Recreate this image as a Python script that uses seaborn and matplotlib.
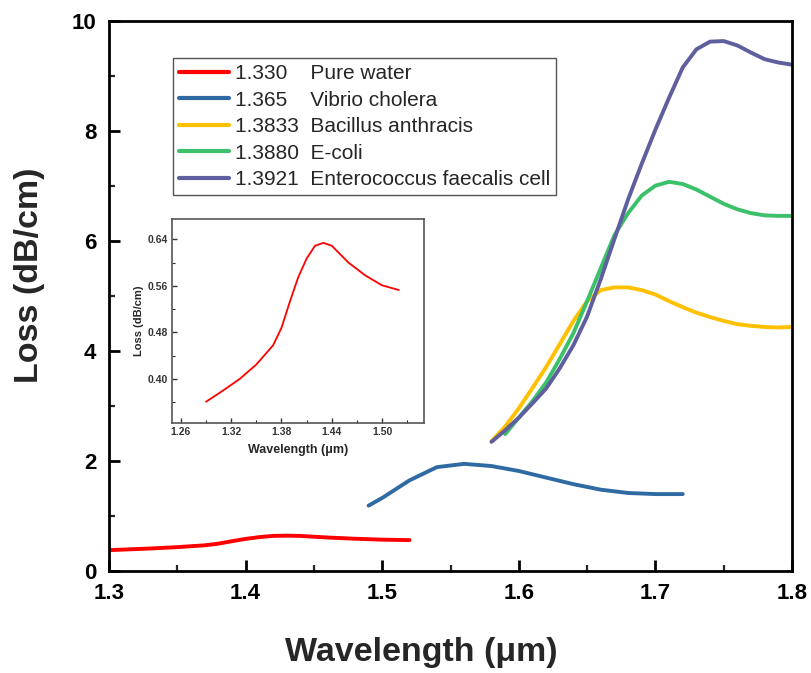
import numpy as np
import pandas as pd
import matplotlib
matplotlib.use("Agg")
import matplotlib.pyplot as plt
from matplotlib.ticker import MultipleLocator
import seaborn as sns

# Refractive index and analyte of each sample
ri_values = ["1.330", "1.365", "1.3833", "1.3880", "1.3921"]
species = ["Pure water", "Vibrio cholera", "Bacillus anthracis", "E-coli",
           "Enterococcus faecalis cell"]
colors = ["#FF0000", "#2F6AA3", "#FFC000", "#3CC06A", "#5F5E9E"]

# Pure water
wl_water = [1.29, 1.31, 1.33, 1.35, 1.37, 1.38, 1.39, 1.40, 1.41, 1.42, 1.43,
            1.44, 1.46, 1.48, 1.50, 1.52]
loss_water = [0.361, 0.380, 0.400, 0.425, 0.458, 0.488, 0.533, 0.575, 0.607,
              0.629, 0.634, 0.629, 0.600, 0.578, 0.561, 0.553]

# Vibrio cholera
wl_vibrio = [1.49, 1.50, 1.52, 1.54, 1.56, 1.58, 1.60, 1.62, 1.64, 1.66, 1.68,
             1.70, 1.72]
loss_vibrio = [1.18, 1.32, 1.64, 1.88, 1.94, 1.90, 1.81, 1.69, 1.57, 1.47,
               1.41, 1.39, 1.39]

# Bacillus anthracis
wl_bacillus = [1.58, 1.59, 1.60, 1.61, 1.62, 1.63, 1.64, 1.65, 1.66, 1.67,
               1.68, 1.69, 1.70, 1.71, 1.72, 1.73, 1.74, 1.75, 1.76, 1.77,
               1.78, 1.79, 1.80]
loss_bacillus = [2.35, 2.62, 2.95, 3.32, 3.70, 4.12, 4.54, 4.90, 5.10, 5.15,
                 5.15, 5.10, 5.02, 4.90, 4.79, 4.69, 4.61, 4.54, 4.48, 4.45,
                 4.43, 4.42, 4.43]

# E-coli
wl_ecoli = [1.59, 1.60, 1.61, 1.62, 1.63, 1.64, 1.65, 1.66, 1.67, 1.68, 1.69,
            1.70, 1.71, 1.72, 1.73, 1.74, 1.75, 1.76, 1.77, 1.78, 1.79, 1.80]
loss_ecoli = [2.48, 2.78, 3.08, 3.42, 3.85, 4.32, 4.90, 5.50, 6.10, 6.50,
              6.82, 7.00, 7.07, 7.03, 6.93, 6.80, 6.67, 6.57, 6.50, 6.46,
              6.45, 6.45]

# Enterococcus faecalis cell
wl_entero = [1.58, 1.59, 1.60, 1.61, 1.62, 1.63, 1.64, 1.65, 1.66, 1.67,
             1.68, 1.69, 1.70, 1.71, 1.72, 1.73, 1.74, 1.75, 1.76, 1.77,
             1.78, 1.79, 1.80]
loss_entero = [2.34, 2.55, 2.78, 3.04, 3.31, 3.68, 4.10, 4.62, 5.30, 6.03,
               6.75, 7.40, 8.02, 8.60, 9.15, 9.48, 9.62, 9.63, 9.55, 9.42,
               9.30, 9.24, 9.20]

series = [
    (wl_water, loss_water),
    (wl_vibrio, loss_vibrio),
    (wl_bacillus, loss_bacillus),
    (wl_ecoli, loss_ecoli),
    (wl_entero, loss_entero),
]

sns.set_theme(style="ticks")
plt.rcParams["font.family"] = ["Liberation Sans", "DejaVu Sans"]

fig = plt.figure(figsize=(8.11, 6.73), dpi=100)
ax = fig.add_axes([0.1344, 0.1523, 0.8422, 0.8169])

for (wl, loss), col in zip(series, colors):
    df = pd.DataFrame({"Wavelength": wl, "Loss": loss})
    sns.lineplot(data=df, x="Wavelength", y="Loss", ax=ax, color=col,
                 linewidth=2.8, sort=False, estimator=None, legend=False)

ax.set_xlim(1.3, 1.8)
ax.set_ylim(0, 10)
ax.xaxis.set_major_locator(MultipleLocator(0.1))
ax.xaxis.set_minor_locator(MultipleLocator(0.05))
ax.yaxis.set_major_locator(MultipleLocator(2))
ax.yaxis.set_minor_locator(MultipleLocator(1))
ax.tick_params(which="major", direction="in", length=8, width=2,
               labelsize=16, pad=9, colors="black")
ax.tick_params(which="minor", direction="in", length=4.5, width=1.6)
for lab in ax.get_xticklabels() + ax.get_yticklabels():
    lab.set_fontweight("bold")
for sp in ax.spines.values():
    sp.set_linewidth(2)
    sp.set_color("black")

ax.set_xlabel("Wavelength (\u03bcm)", fontsize=24.5, fontweight="bold",
              va="center")
ax.set_ylabel("Loss (dB/cm)", fontsize=24.5, fontweight="bold",
              va="center")
ax.xaxis.set_label_coords(0.4578, -0.150)
ax.yaxis.set_label_coords(-0.117, 0.5366)

# Legend: refractive index followed by the analyte name
labels = []
for ri, name in zip(ri_values, species):
    gap = " " * (2 + 2 * (6 - len(ri)))
    labels.append(ri + gap + name)
leg = ax.legend(ax.get_lines(), labels, loc="upper left",
                bbox_to_anchor=(0.0937, 0.9316), borderaxespad=0,
                fontsize=15.0, frameon=True, fancybox=False,
                edgecolor="#555555", framealpha=1, handlelength=2.4,
                handletextpad=0.3, borderpad=0.28, labelspacing=0.36)
leg.get_frame().set_linewidth(1.0)
for line in leg.get_lines():
    line.set_linewidth(3.0)

# Inset: pure-water loss on its own scale
axin = fig.add_axes([0.2127, 0.3719, 0.3101, 0.3027])
sns.lineplot(x=wl_water, y=loss_water, ax=axin, color=colors[0],
             linewidth=1.3, sort=False, estimator=None, legend=False)
axin.set_xlim(1.25, 1.55)
axin.set_ylim(0.325, 0.675)
axin.xaxis.set_major_locator(MultipleLocator(0.06))
axin.xaxis.set_minor_locator(MultipleLocator(0.03))
axin.yaxis.set_major_locator(MultipleLocator(0.08))
axin.yaxis.set_minor_locator(MultipleLocator(0.04))
axin.xaxis.set_major_formatter(plt.FormatStrFormatter("%.2f"))
axin.yaxis.set_major_formatter(plt.FormatStrFormatter("%.2f"))
axin.tick_params(which="major", direction="in", length=3.5, width=1,
                 labelsize=7.5, pad=3, colors="#333333")
axin.tick_params(which="minor", direction="in", length=2, width=0.8)
for lab in axin.get_xticklabels() + axin.get_yticklabels():
    lab.set_fontweight("bold")
for sp in axin.spines.values():
    sp.set_linewidth(1.2)
    sp.set_color("#555555")
axin.set_xlabel("Wavelength (\u03bcm)", fontsize=9, fontweight="bold",
                labelpad=5)
axin.set_ylabel("Loss (dB/cm)", fontsize=8, fontweight="bold", labelpad=3)

fig.savefig("out.png", dpi=100)
